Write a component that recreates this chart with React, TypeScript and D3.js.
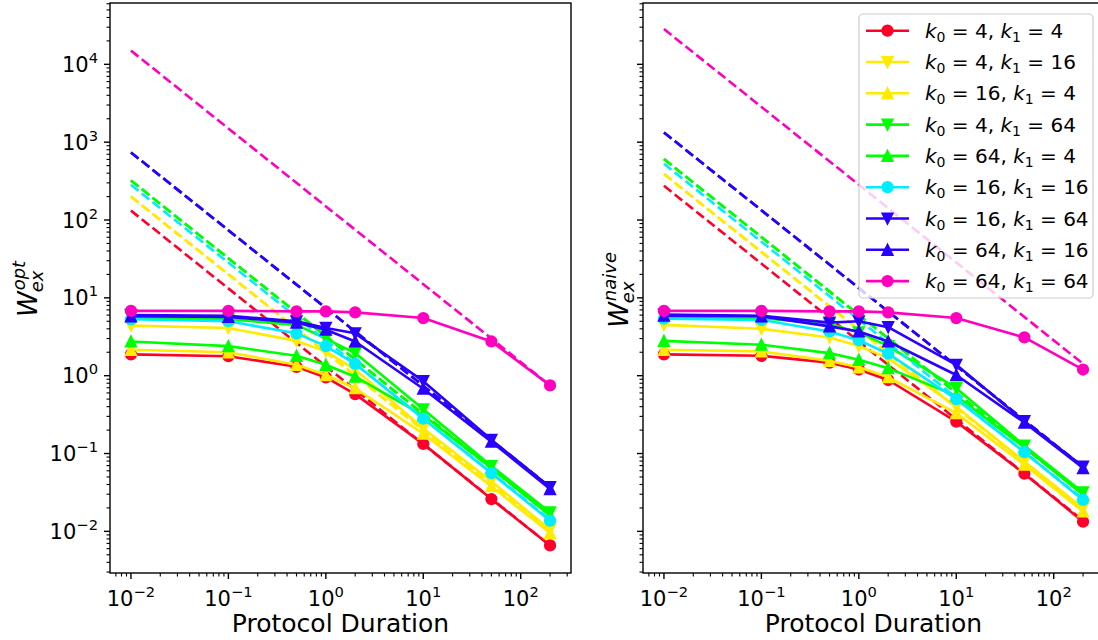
import React from 'react';
import * as d3 from 'd3';

// protocol durations (x) shared by every series
const durations = [0.01, 0.1, 0.5, 1, 2, 10, 50, 200];

const k0s = [4, 4, 16, 4, 64, 16, 16, 64, 64];
const k1s = [4, 16, 4, 64, 4, 16, 64, 16, 64];
const colors = ['#ff0029', '#ffea00', '#ffea00', '#00ff00', '#00ff00', '#00ecff', '#2a00ff', '#2a00ff', '#ff00bf'];
const markers = ['o', 'v', '^', 'v', '^', 'o', 'v', '^', 'o'];

// W_ex^opt
const optValues = [
  [1.88, 1.78, 1.3, 0.95, 0.58, 0.133, 0.026, 0.0066],
  [4.4, 4.1, 2.8, 2.05, 1.2, 0.21, 0.044, 0.0105],
  [2.15, 2.0, 1.38, 1.02, 0.69, 0.18, 0.038, 0.0095],
  [5.6, 5.3, 4.5, 3.0, 1.95, 0.37, 0.069, 0.0175],
  [2.75, 2.4, 1.8, 1.38, 0.97, 0.31, 0.065, 0.016],
  [5.3, 5.0, 3.5, 2.4, 1.42, 0.28, 0.056, 0.0137],
  [6.0, 5.9, 5.0, 4.1, 3.5, 0.85, 0.15, 0.037],
  [5.8, 5.7, 4.8, 3.9, 2.75, 0.68, 0.142, 0.035],
  [6.8, 6.8, 6.7, 6.7, 6.5, 5.5, 2.75, 0.75],
];

// W_ex^naive
const naiveValues = [
  [1.88, 1.8, 1.47, 1.2, 0.88, 0.257, 0.055, 0.0133],
  [4.5, 4.0, 3.1, 2.4, 1.68, 0.4, 0.079, 0.0198],
  [2.15, 2.05, 1.55, 1.28, 0.96, 0.33, 0.072, 0.018],
  [5.7, 5.5, 4.6, 3.6, 2.4, 0.69, 0.126, 0.0316],
  [2.8, 2.5, 1.95, 1.6, 1.25, 0.55, 0.12, 0.0295],
  [5.4, 5.2, 3.7, 2.85, 1.92, 0.5, 0.104, 0.0253],
  [6.1, 5.9, 4.8, 5.0, 4.2, 1.38, 0.26, 0.068],
  [5.9, 5.8, 4.3, 3.7, 2.75, 1.02, 0.25, 0.065],
  [6.8, 6.8, 6.7, 6.7, 6.5, 5.5, 3.1, 1.2],
];

// dashed asymptotes: value at the first and last duration
const asymX = [0.01, 200];
const optAsym = [
  [132, 0.0066], [200, 0.01], [200, 0.01], [322, 0.0161], [322, 0.0161],
  [283, 0.0142], [738, 0.037], [738, 0.037], [15000, 0.75],
];
const naiveAsym = [
  [275, 0.0138], [389, 0.0195], [389, 0.0195], [606, 0.03], [606, 0.03],
  [528, 0.026], [1333, 0.067], [1333, 0.067], [28400, 1.42],
];

const xTickExps = [-2, -1, 0, 1, 2];
const yTickExps = [-2, -1, 0, 1, 2, 3, 4];

const FONT = 'DejaVu Sans, sans-serif';
const TOP = 3, BOTTOM = 573;
const LW = 2.6, MS = 10.5, MEW = 1.75;

const xDomain = [10 ** -2.215, 10 ** 2.516];
const yDomain = [10 ** -2.535, 10 ** 4.788];

function minorTicks(domain: number[]) {
  const out: number[] = [];
  for (let e = -4; e <= 5; e++) {
    for (let m = 2; m <= 9; m++) {
      const v = m * 10 ** e;
      if (v >= domain[0] && v <= domain[1]) out.push(v);
    }
  }
  return out;
}

const expText = (e: number) => (e < 0 ? '\u2212' + -e : String(e));

function Marker({ type, x, y, color }: any) {
  const s = MS / 2;
  if (type === 'o') {
    return <circle cx={x} cy={y} r={s} fill={color} stroke={color} strokeWidth={MEW} />;
  }
  const pts = type === '^'
    ? [[x, y - s], [x - s, y + s], [x + s, y + s]]
    : [[x, y + s], [x - s, y - s], [x + s, y - s]];
  return <polygon points={pts.map(p => p.join(',')).join(' ')} fill={color} stroke={color} strokeWidth={MEW} strokeLinejoin="miter" />;
}

function Panel({ x0, x1, values, asym, showYLabels, sup, labelX }: any) {
  const x = d3.scaleLog().domain(xDomain).range([x0, x1]);
  const y = d3.scaleLog().domain(yDomain).range([BOTTOM, TOP]);
  const line = d3.line<number[]>().x(d => x(d[0])).y(d => y(d[1]));
  const clipId = `clip-${x0}`;

  const fs = 26, ss = 18;
  const wW = 0.99 * fs;
  const supW = sup.length * 0.6 * ss;
  const sx = -(wW + supW) / 2;

  return (
    <g>
      <defs>
        <clipPath id={clipId}>
          <rect x={x0} y={TOP} width={x1 - x0} height={BOTTOM - TOP} />
        </clipPath>
      </defs>
      <g clipPath={`url(#${clipId})`}>
        {values.map((vals: number[], i: number) => {
          const pts = durations.map((d, j) => [d, vals[j]]);
          const dash = asymX.map((d, j) => [d, asym[i][j]]);
          return (
            <g key={i}>
              <path d={line(pts) || ''} fill="none" stroke={colors[i]} strokeWidth={LW} strokeLinejoin="round" />
              {pts.map((p, j) => (
                <Marker key={j} type={markers[i]} x={x(p[0])} y={y(p[1])} color={colors[i]} />
              ))}
              <path d={line(dash) || ''} fill="none" stroke={colors[i]} strokeWidth={LW} strokeDasharray="9.6,4.2" />
            </g>
          );
        })}
      </g>

      {/* ticks */}
      {minorTicks(xDomain).map(v => (
        <line key={'xm' + v} x1={x(v)} x2={x(v)} y1={BOTTOM} y2={BOTTOM + 3.5} stroke="#000" strokeWidth={1.1} />
      ))}
      {xTickExps.map(e => (
        <g key={'xM' + e}>
          <line x1={x(10 ** e)} x2={x(10 ** e)} y1={BOTTOM} y2={BOTTOM + 6} stroke="#000" strokeWidth={1.4} />
          <text x={x(10 ** e)} y={606} textAnchor="middle" fontSize={21} fontFamily={FONT}>
            10<tspan dy={-9} fontSize={14.7}>{expText(e)}</tspan>
          </text>
        </g>
      ))}
      {minorTicks(yDomain).map(v => (
        <line key={'ym' + v} x1={x0 - 3.5} x2={x0} y1={y(v)} y2={y(v)} stroke="#000" strokeWidth={1.1} />
      ))}
      {yTickExps.map(e => (
        <g key={'yM' + e}>
          <line x1={x0 - 6} x2={x0} y1={y(10 ** e)} y2={y(10 ** e)} stroke="#000" strokeWidth={1.4} />
          {showYLabels && (
            <text x={x0 - 12} y={y(10 ** e) + 7.5} textAnchor="end" fontSize={21} fontFamily={FONT}>
              10<tspan dy={-9} fontSize={14.7}>{expText(e)}</tspan>
            </text>
          )}
        </g>
      ))}

      <rect x={x0} y={TOP} width={x1 - x0} height={BOTTOM - TOP} fill="none" stroke="#000" strokeWidth={1.4} />

      <text x={(x0 + x1) / 2} y={632} textAnchor="middle" fontSize={25} fontFamily={FONT}>Protocol Duration</text>

      <g transform={`translate(${labelX},${(TOP + BOTTOM) / 2}) rotate(-90)`} fontFamily={FONT} fontStyle="italic">
        <text x={sx} y={0} fontSize={fs}>W</text>
        <text x={sx + wW + 1} y={-0.45 * fs} fontSize={ss}>{sup}</text>
        <text x={sx + wW - 1} y={0.24 * fs} fontSize={ss}>ex</text>
      </g>
    </g>
  );
}

function Legend() {
  const lx = 859, ly = 14, lw = 234, lh = 284;
  return (
    <g fontFamily={FONT}>
      <rect x={lx} y={ly} width={lw} height={lh} rx={4} fill="#fff" fillOpacity={0.8} stroke="#cccccc" strokeWidth={1.2} />
      {k0s.map((k0, i) => {
        const cy = 30.7 + i * 31.3;
        return (
          <g key={i}>
            <line x1={866} x2={909} y1={cy} y2={cy} stroke={colors[i]} strokeWidth={LW} />
            <Marker type={markers[i]} x={887.5} y={cy} color={colors[i]} />
            <text x={925} y={cy + 7} fontSize={20}>
              <tspan fontStyle="italic">k</tspan>
              <tspan fontSize={14} dy={4}>0</tspan>
              <tspan dy={-4}>{` = ${k0}, `}</tspan>
              <tspan fontStyle="italic">k</tspan>
              <tspan fontSize={14} dy={4}>1</tspan>
              <tspan dy={-4}>{` = ${k1s[i]}`}</tspan>
            </text>
          </g>
        );
      })}
    </g>
  );
}

export default function App() {
  return (
    <svg width={1098} height={640} style={{ position: 'absolute', left: 0, top: 0, background: '#fff' }}>
      <rect width={1098} height={640} fill="#fff" />
      <Panel x0={110} x1={571} values={optValues} asym={optAsym} showYLabels sup="opt" labelX={37} />
      <Panel x0={643} x1={1104} values={naiveValues} asym={naiveAsym} showYLabels={false} sup="naive" labelX={628} />
      <Legend />
    </svg>
  );
}
